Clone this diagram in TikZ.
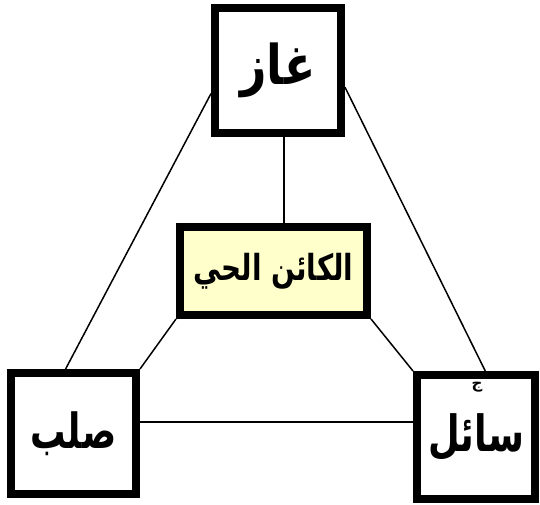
\documentclass[tikz,border=0pt]{standalone}
\usepackage{fontspec}
\newfontfamily\arabicfont[Script=Arabic]{DejaVu Sans}
\TeXXeTstate=1
\definecolor{paleyellow}{RGB}{255,255,204}
\tikzset{
  statebox/.style={draw=black, line width=8pt, fill=white, rectangle, inner sep=0pt},
  link/.style={draw=black, line width=1.5pt},
}
\begin{document}
\begin{tikzpicture}[x=1pt,y=-1pt]
\useasboundingbox (0,0) rectangle (540,505);
\node[statebox, minimum width=126pt, minimum height=125pt] (gas) at (278,70.5) {\raisebox{-2pt}{\resizebox*{75pt}{55pt}{\arabicfont\bfseries\beginR غاز\endR}}};
\node[statebox, fill=paleyellow, minimum width=187pt, minimum height=88pt] (mid) at (273.5,271) {\resizebox*{160pt}{36pt}{\arabicfont\bfseries\beginR الكائن الحي\endR}};
\node[statebox, minimum width=125pt, minimum height=121pt] (solid) at (73.5,433.5) {\resizebox*{86pt}{44pt}{\arabicfont\bfseries\beginR صلب\endR}};
\node[statebox, minimum width=118pt, minimum height=124pt] (sail) at (476,437) {\raisebox{2pt}{\resizebox*{96pt}{47pt}{\arabicfont\bfseries\beginR سائل\endR}}};
\node[inner sep=0pt, font=\arabicfont\bfseries\fontsize{15}{16}\selectfont] (mark) at (477,387) {\beginR ج\endR};
\draw[link] (gas.199) -- (solid.97);
\draw[link] (gas.-14) -- (sail.82);
\draw[link] (gas.-85) -- (gas.-85 |- mid.north);
\draw[link] (mid.south west) -- (solid.north east);
\draw[link] (mid.south east) -- (sail.north west);
\draw[link] (solid.10) -- (solid.10 -| sail.west);
\end{tikzpicture}
\end{document}
